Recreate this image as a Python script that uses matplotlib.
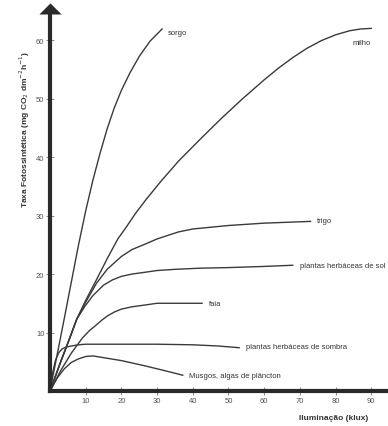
import matplotlib.pyplot as plt

# curves (illumination klux, rate mg CO2 dm-2 h-1)
sorgo_x = [0, 4, 8, 10, 12, 14, 16, 18, 20, 22.4, 25, 28, 31.4]
sorgo_y = [0, 12.4, 25, 30.8, 36, 40.6, 44.8, 48.4, 51.4, 54.4, 57.2, 59.8, 61.9]

milho_x = [0, 3, 5.5, 7.5, 10, 13, 16, 19, 21, 24, 27, 31, 36, 42, 48, 54, 60, 64, 68, 72, 76, 80, 84, 87, 90]
milho_y = [0, 5, 9, 12.3, 15.5, 19, 22.6, 26, 27.7, 30.4, 32.8, 35.8, 39.3, 43, 46.6, 50, 53.2, 55.2, 57, 58.6, 59.9, 60.9, 61.6, 61.9, 62]

trigo_x = [0, 3, 5.5, 7.5, 10, 13, 16, 20, 23, 26.6, 30, 33, 36, 40, 45, 50, 60, 73]
trigo_y = [0, 5, 9, 12.3, 15.2, 18.4, 20.8, 23, 24.2, 25.1, 26, 26.6, 27.2, 27.7, 28, 28.3, 28.7, 29]

sol_x = [0, 3, 5.5, 7.5, 9.8, 12, 15, 17.5, 20, 23, 26.6, 30, 35, 42, 50, 60, 68]
sol_y = [0, 5, 9, 12.3, 14.5, 16.3, 18.1, 19, 19.6, 20, 20.3, 20.6, 20.8, 21, 21.1, 21.3, 21.5]

faia_x = [0, 3, 6, 9, 11, 12.6, 14.5, 16, 18, 20, 23, 26.6, 30, 42.6]
faia_y = [0, 3.5, 6.5, 9, 10.3, 11.1, 12.1, 12.8, 13.5, 14, 14.4, 14.7, 15, 15]

sombra_x = [0, 0.7, 1.5, 2.5, 3.4, 4.5, 6, 8, 10, 20, 30, 40, 47, 53]
sombra_y = [0, 3, 5.2, 6.6, 7.2, 7.5, 7.7, 7.9, 8, 8, 8, 7.9, 7.7, 7.4]

musgos_x = [0, 2, 4, 6, 8, 10, 12, 15, 20, 26.6, 32, 37.2]
musgos_y = [0, 2.2, 3.8, 4.9, 5.5, 5.9, 6, 5.7, 5.2, 4.3, 3.5, 2.7]

curve_labels = ['sorgo', 'milho', 'trigo', 'plantas herbáceas de sol', 'faia',
                'plantas herbáceas de sombra', 'Musgos, algas de plâncton']
label_pos = [(33, 61.3), (90, 59.6), (74.8, 29.1), (70, 21.5), (44.5, 15),
             (55, 7.6), (39, 2.7)]

x_ticks = [10, 20, 30, 40, 50, 60, 70, 80, 90]
y_ticks = [10, 20, 30, 40, 50, 60]

font = ['Liberation Sans Narrow', 'Liberation Sans', 'DejaVu Sans']
plt.rcParams['font.family'] = font

fig = plt.figure(figsize=(3.88, 4.27), dpi=100)
ax = fig.add_axes([50 / 388, 1 - 392 / 427, 338 / 388, 386 / 427])

line_col = '#3a3a3a'
curves = [(sorgo_x, sorgo_y), (milho_x, milho_y), (trigo_x, trigo_y),
          (sol_x, sol_y), (faia_x, faia_y), (sombra_x, sombra_y),
          (musgos_x, musgos_y)]
for cx, cy in curves:
    ax.plot(cx, cy, color=line_col, lw=1.0, solid_joinstyle='round')

for name, (lx, ly) in zip(curve_labels, label_pos):
    ha = 'right' if name == 'milho' else 'left'
    ax.text(lx, ly, name, fontsize=5.5, color='#333333', ha=ha, va='center')

ax.set_xlim(0, 94.7)
ax.set_ylim(0, 66)
for s in ['top', 'right']:
    ax.spines[s].set_visible(False)
for s in ['left', 'bottom']:
    ax.spines[s].set_linewidth(3)
    ax.spines[s].set_color('#2a2a2a')
ax.spines['left'].set_bounds(0, 64.6)

# arrow head on the y axis
tri = [(-1, 0), (1, 0), (0, 1), (-1, 0)]
ax.plot([0], [64.4], marker=tri, markersize=16, color='#2a2a2a',
        markeredgewidth=0, clip_on=False)

ax.set_xticks(x_ticks)
ax.set_yticks(y_ticks)
ax.tick_params(direction='inout', length=6, width=0.6, color='#777777',
               labelsize=5.5, labelcolor='#555555', pad=1)

ax.set_xlabel('Iluminação (klux)', fontsize=6, fontweight='bold', color='#333333')
ax.xaxis.set_label_coords(0.84, -0.06)
ax.set_ylabel('Taxa Fotossintética (mg CO$_2$ dm$^{-2}$h$^{-1}$)', fontsize=6,
              fontweight='bold', color='#333333')
ax.yaxis.set_label_coords(-0.052, 0.68)

fig.savefig('out.png', dpi=100)
